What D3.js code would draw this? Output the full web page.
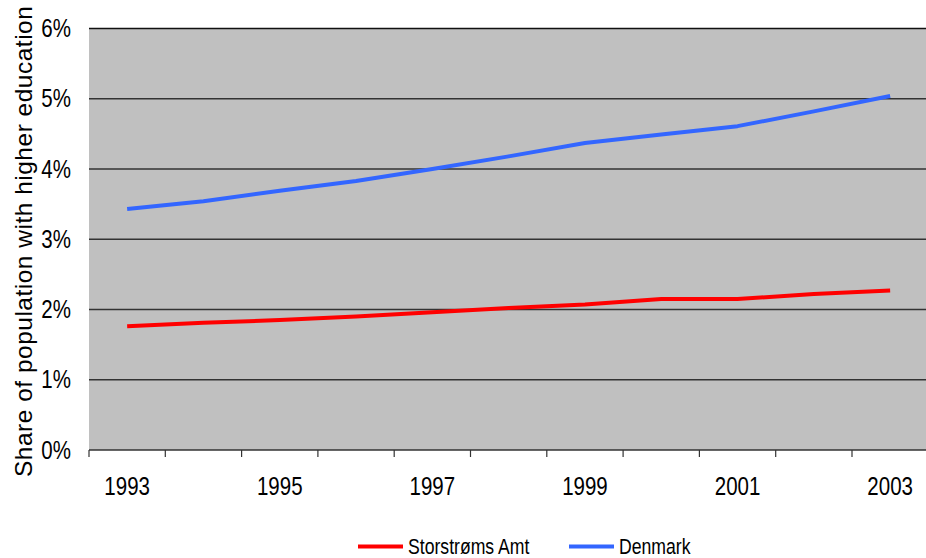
<!DOCTYPE html>
<html>
<head>
<meta charset="utf-8">
<script src="https://cdn.jsdelivr.net/npm/d3@7"></script>
<style>
  body { margin: 0; background: #fff; }
  svg { display: block; }
</style>
</head>
<body>
<div id="chart"></div>
<script>
// data
const years = ['1993', '1994', '1995', '1996', '1997', '1998', '1999', '2000', '2001', '2002', '2003'];
const year_labels = ['1993', '1995', '1997', '1999', '2001', '2003'];
const storstroms = [1.76, 1.81, 1.85, 1.90, 1.96, 2.02, 2.07, 2.15, 2.15, 2.22, 2.27];
const denmark = [3.43, 3.54, 3.69, 3.83, 4.00, 4.18, 4.37, 4.49, 4.61, 4.82, 5.04];
const y_ticks = [0, 1, 2, 3, 4, 5, 6];
const series = [
    {name: 'Storstrøms Amt', values: storstroms, color: '#FF0000'},
    {name: 'Denmark', values: denmark, color: '#3366FF'},
];

// layout
const W = 926, H = 558;
const PLOT = {left: 89, right: 928.3, top: 28.5, bottom: 450};
const SANS = '"Liberation Sans", Arial, sans-serif';
// Arial Narrow is not available: squeeze Liberation Sans instead
const NARROW_SCALE = 0.82;

const svg = d3.select('#chart')
    .append('svg')
    .attr('width', W)
    .attr('height', H)
;

const x = d3.scaleBand()
    .domain(years)
    .range([PLOT.left, PLOT.right])
;
const y = d3.scaleLinear()
    .domain([0, 6])
    .range([PLOT.bottom, PLOT.top])
;

// narrow text helper
function narrow_text(sel, size, anchor)
{
    sel.append('g')
        .attr('transform', `scale(${NARROW_SCALE},1)`)
        .append('text')
        .attr('text-anchor', anchor)
        .attr('font-family', SANS)
        .attr('font-size', size)
        .attr('fill', '#000')
        .text(d => d.label)
    ;
}

// plot background
svg.append('rect')
    .attr('x', PLOT.left)
    .attr('y', PLOT.top)
    .attr('width', PLOT.right - PLOT.left)
    .attr('height', PLOT.bottom - PLOT.top)
    .attr('fill', '#C0C0C0')
;

// gridlines
svg.append('g')
    .selectAll('line')
    .data(y_ticks.filter(d => d > 0))
    .join('line')
    .attr('x1', PLOT.left)
    .attr('x2', PLOT.right)
    .attr('y1', d => y(d))
    .attr('y2', d => y(d))
    .attr('stroke', d => d === 6 ? '#111' : '#333')
    .attr('stroke-width', 1.4)
;

// y labels
svg.append('g')
    .selectAll('g')
    .data(y_ticks.map(d => ({v: d, label: d + '%'})))
    .join('g')
    .attr('transform', d => `translate(71,${y(d.v) + 8.5})`)
    .call(narrow_text, 25, 'end')
;

// x axis
const x_axis = svg.append('g');
x_axis.append('line')
    .attr('x1', PLOT.left)
    .attr('x2', PLOT.right)
    .attr('y1', PLOT.bottom)
    .attr('y2', PLOT.bottom)
    .attr('stroke', '#333')
    .attr('stroke-width', 1.4)
;
const tick_x = years.map(d => x(d)).concat([PLOT.right]);
x_axis.selectAll('line.tick')
    .data(tick_x)
    .join('line')
    .attr('class', 'tick')
    .attr('x1', d => d)
    .attr('x2', d => d)
    .attr('y1', PLOT.bottom)
    .attr('y2', PLOT.bottom + 7)
    .attr('stroke', '#333')
    .attr('stroke-width', 1.2)
;
x_axis.selectAll('g')
    .data(year_labels.map(d => ({v: d, label: d})))
    .join('g')
    .attr('transform', d => `translate(${x(d.v) + x.bandwidth() / 2},495)`)
    .call(narrow_text, 25, 'middle')
;

// y axis title
svg.append('text')
    .attr('transform', 'translate(31.5,477) rotate(-90)')
    .attr('text-anchor', 'start')
    .attr('font-family', SANS)
    .attr('font-size', 24.5)
    .attr('letter-spacing', 0.5)
    .attr('fill', '#000')
    .text('Share of population with higher education')
;

// lines
const line = d3.line()
    .x((d, i) => x(years[i]) + x.bandwidth() / 2)
    .y(d => y(d))
;
svg.append('g')
    .selectAll('path')
    .data(series)
    .join('path')
    .attr('d', d => line(d.values))
    .attr('fill', 'none')
    .attr('stroke', d => d.color)
    .attr('stroke-width', 4)
    .attr('stroke-linejoin', 'round')
;

// legend
const legend_x = [358, 569];
const legend = svg.append('g')
    .selectAll('g')
    .data(series.map(d => ({color: d.color, label: d.name})))
    .join('g')
    .attr('transform', (d, i) => `translate(${legend_x[i]},546.5)`)
;
legend.append('line')
    .attr('x1', 0)
    .attr('x2', 45)
    .attr('stroke', d => d.color)
    .attr('stroke-width', 4)
;
legend.append('g')
    .attr('transform', 'translate(50,7)')
    .call(narrow_text, 21.5, 'start')
;
</script>
</body>
</html>
